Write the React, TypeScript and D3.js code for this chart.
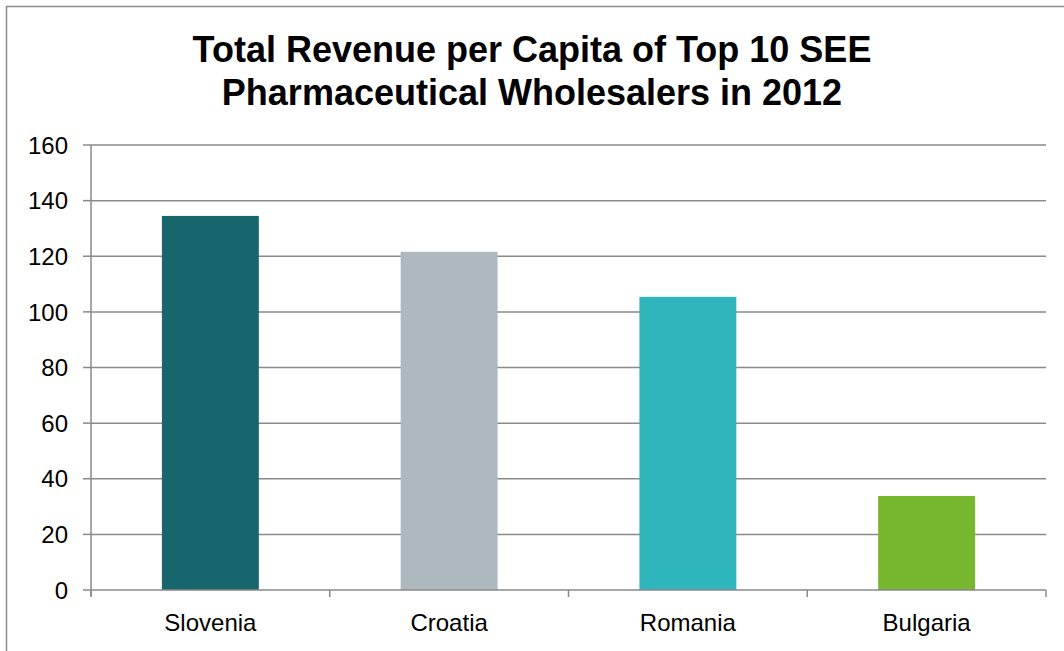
import React from "react";
import * as d3 from "d3";

const categories = ["Slovenia", "Croatia", "Romania", "Bulgaria"];
const values = [134.5, 121.6, 105.4, 33.8];
const barColors = ["#17666B", "#ADB8BF", "#2FB5BC", "#77B72E"];
const yTicks = [0, 20, 40, 60, 80, 100, 120, 140, 160];
const titleLines = ["Total Revenue per Capita of Top 10 SEE", "Pharmaceutical Wholesalers in 2012"];

const W = 1064;
const H = 651;
const left = 91;
const right = 1046;
const top = 145;
const bottom = 590;
const font = "'Liberation Sans', Arial, sans-serif";

export default function App() {
  const y = d3.scaleLinear().domain([0, 160]).range([bottom, top]);
  const x = d3.scaleBand<string>().domain(categories).range([left, right]).padding(0);
  const bw = x.bandwidth() * 0.406;
  const boundaries = [...categories.map((c) => x(c) as number), right];

  return (
    <svg
      width={W}
      height={H}
      style={{ position: "absolute", left: 0, top: 0, background: "#fff" }}
      fontFamily={font}
    >
      <rect x={6.5} y={6.5} width={1200} height={800} fill="#fff" stroke="#8c8c8c" strokeWidth={1.5} />
      {titleLines.map((t, i) => (
        <text key={i} x={W / 2} y={62 + i * 43} textAnchor="middle" fontSize={36} fontWeight="bold" fill="#000">
          {t}
        </text>
      ))}
      {yTicks.map((t) => (
        <g key={t}>
          {t > 0 && (
            <line x1={left} x2={right} y1={y(t)} y2={y(t)} stroke="#8a8a8a" strokeWidth={1.5} />
          )}
          <line x1={83} x2={left} y1={y(t)} y2={y(t)} stroke="#8a8a8a" strokeWidth={1.5} />
          <text x={68} y={y(t)} dy="0.36em" textAnchor="end" fontSize={24} fill="#000">
            {t}
          </text>
        </g>
      ))}
      {categories.map((c, i) => (
        <rect
          key={c}
          x={(x(c) as number) + (x.bandwidth() - bw) / 2}
          y={y(values[i])}
          width={bw}
          height={y(0) - y(values[i])}
          fill={barColors[i]}
        />
      ))}
      <line x1={left} x2={left} y1={top} y2={bottom + 6} stroke="#8a8a8a" strokeWidth={1.5} />
      <line x1={left} x2={right} y1={bottom} y2={bottom} stroke="#8a8a8a" strokeWidth={1.5} />
      {boundaries.map((b, i) => (
        <line key={i} x1={b} x2={b} y1={bottom} y2={bottom + 7} stroke="#8a8a8a" strokeWidth={1.5} />
      ))}
      {categories.map((c) => (
        <text key={c} x={(x(c) as number) + x.bandwidth() / 2} y={631} textAnchor="middle" fontSize={24} fill="#000">
          {c}
        </text>
      ))}
    </svg>
  );
}
